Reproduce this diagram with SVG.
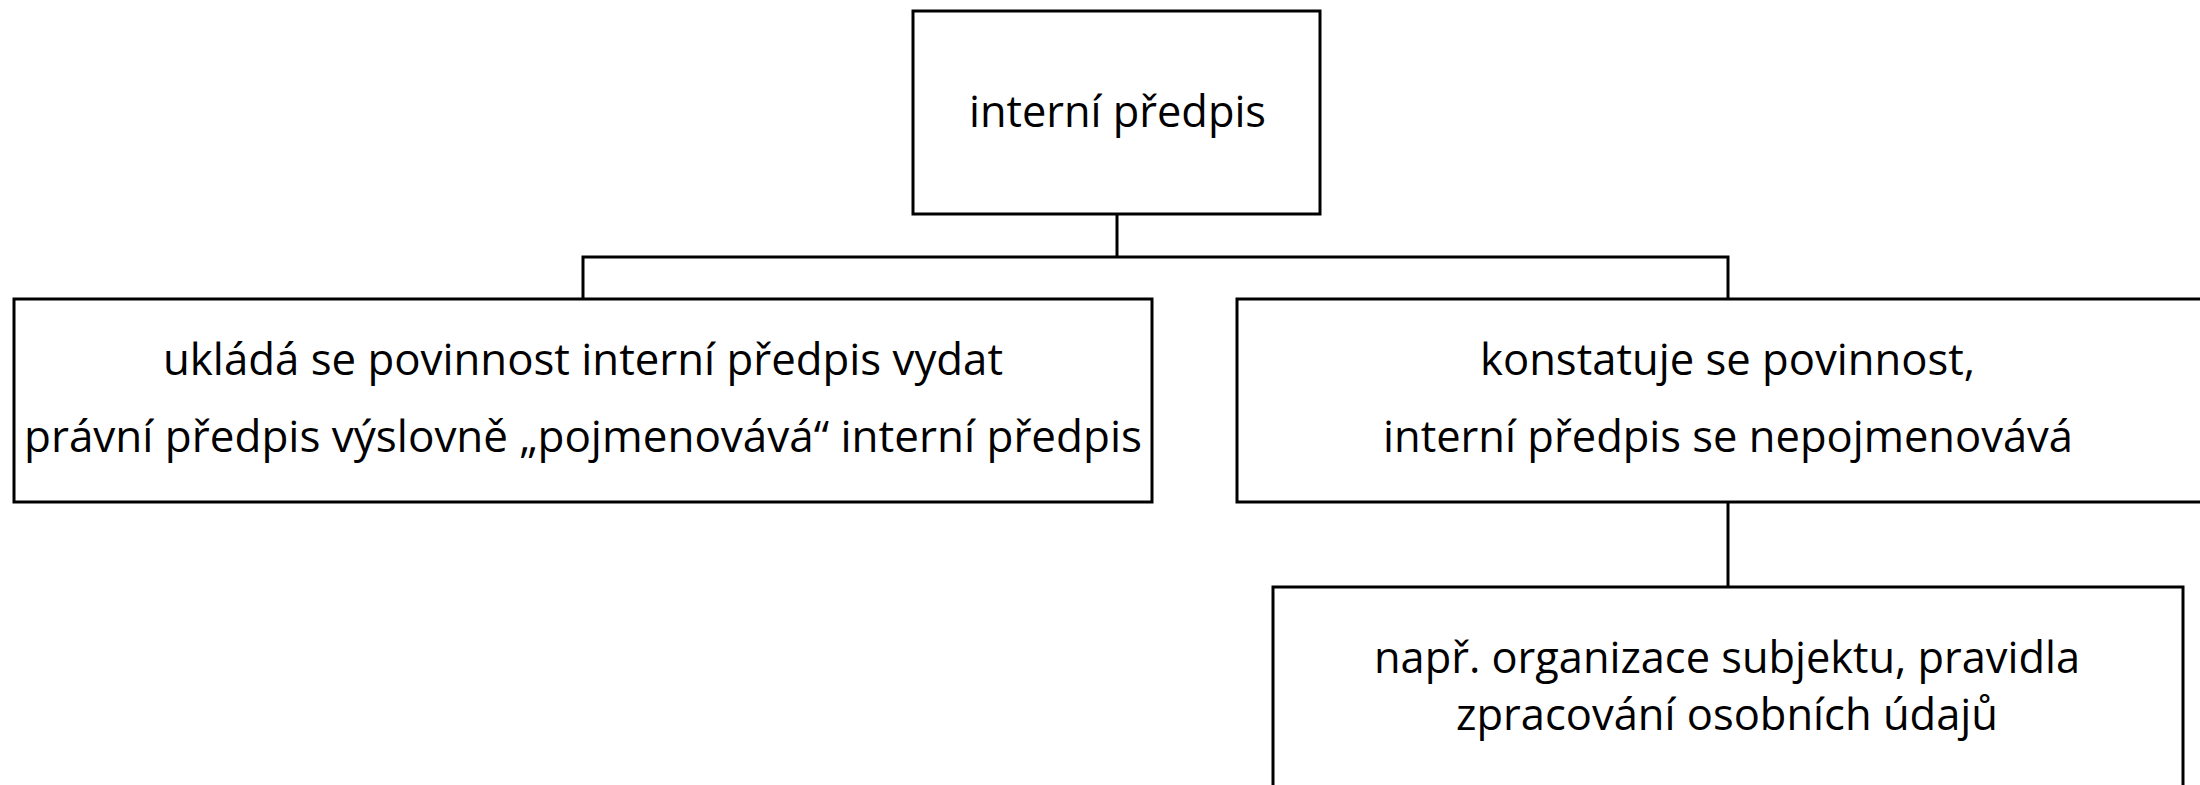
<svg xmlns="http://www.w3.org/2000/svg" width="2200" height="785" viewBox="0 0 2200 785">
<style>
.box{fill:#fff;stroke:#000;stroke-width:3}
.con{fill:none;stroke:#000;stroke-width:3}
text{font-family:"Open Sans","Noto Sans","Liberation Sans",sans-serif;font-size:44px;fill:#000;text-anchor:middle}
</style>
<rect width="2200" height="785" fill="#fff"/>
<g id="connectors">
<path class="con" d="M1117 214 V257 M583 299 V257 H1728 V299 M1728 502 V587"/>
</g>
<g id="top">
<rect class="box" x="913" y="11" width="407" height="203"/>
<text x="1117.5" y="127" textLength="297" lengthAdjust="spacingAndGlyphs">interní předpis</text>
</g>
<g id="left">
<rect class="box" x="14" y="299" width="1138" height="203"/>
<text x="583" y="375" textLength="840" lengthAdjust="spacingAndGlyphs">ukládá se povinnost interní předpis vydat</text>
<text x="583" y="452" textLength="1118" lengthAdjust="spacingAndGlyphs">právní předpis výslovně „pojmenovává“ interní předpis</text>
</g>
<g id="right">
<rect class="box" x="1237" y="299" width="1000" height="203"/>
<text x="1727.5" y="375" textLength="495" lengthAdjust="spacingAndGlyphs">konstatuje se povinnost,</text>
<text x="1728" y="452" textLength="690" lengthAdjust="spacingAndGlyphs">interní předpis se nepojmenovává</text>
</g>
<g id="bottom">
<rect class="box" x="1273" y="587" width="910" height="240"/>
<text x="1727" y="673" textLength="706" lengthAdjust="spacingAndGlyphs">např. organizace subjektu, pravidla</text>
<text x="1727" y="730" textLength="542" lengthAdjust="spacingAndGlyphs">zpracování osobních údajů</text>
</g>
</svg>
